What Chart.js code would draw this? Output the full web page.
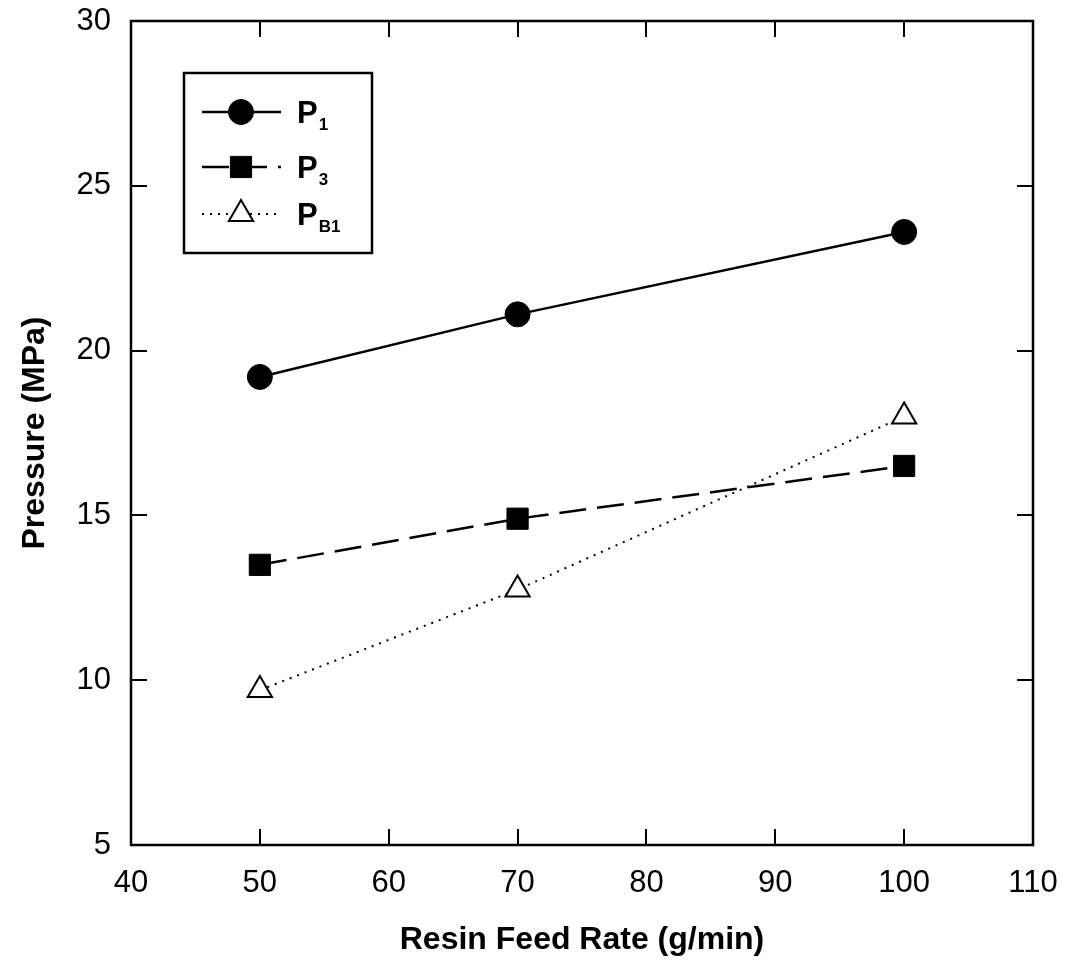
<!DOCTYPE html>
<html><head><meta charset="utf-8">
<script src="https://cdn.jsdelivr.net/npm/chart.js@4.4.1/dist/chart.umd.min.js"></script>
<style>html,body{margin:0;padding:0;background:#fff}#wrap{width:1068px;height:960px;position:relative}</style>
</head><body><div id="wrap"><canvas id="c" width="1068" height="960"></canvas></div>
<script>
const feedRates = [50, 70, 100];
const p1Values = [19.2, 21.1, 23.6];
const p3Values = [13.5, 14.9, 16.5];
const pb1Values = [9.7, 12.75, 18.0];
const xTicks = [40, 50, 60, 70, 80, 90, 100, 110];
const yTicks = [5, 10, 15, 20, 25, 30];
const seriesLabels = [
  { main: 'P', sub: '1' },
  { main: 'P', sub: '3' },
  { main: 'P', sub: 'B1' }
];
const xTitle = 'Resin Feed Rate (g/min)';
const yTitle = 'Pressure (MPa)';

const FONT = '"Liberation Sans", Arial, Helvetica, sans-serif';

function pts(vals) { return feedRates.map((x, i) => ({ x: x, y: vals[i] })); }

const datasets = [
  { label: 'P1', data: pts(p1Values), borderColor: '#000', backgroundColor: '#000', borderWidth: 2.5,
    pointStyle: 'circle', pointRadius: 12.5, pointBorderWidth: 1, pointBackgroundColor: '#000', pointBorderColor: '#000', borderDash: [] },
  { label: 'P3', data: pts(p3Values), borderColor: '#000', backgroundColor: '#000', borderWidth: 2.5,
    pointStyle: 'rect', pointRadius: 15, pointBorderWidth: 1, pointBackgroundColor: '#000', pointBorderColor: '#000', borderDash: [27, 11] },
  { label: 'PB1', data: pts(pb1Values), borderColor: '#000', backgroundColor: '#fff', borderWidth: 2,
    pointStyle: 'triangle', pointRadius: 14, pointBorderWidth: 2, pointBackgroundColor: '#fff', pointBorderColor: '#000', borderDash: [2, 6] }
];
datasets.forEach(d => { d.showLine = true; d.fill = false; d.tension = 0; });

const TICK_LEN = 16;

const framePlugin = {
  id: 'frame',
  beforeDatasetsDraw(chart) {
    const { ctx, chartArea: a, scales } = chart;
    ctx.save();
    ctx.strokeStyle = '#000';
    ctx.lineWidth = 2.5;
    ctx.strokeRect(a.left, a.top, a.right - a.left, a.bottom - a.top);
    ctx.lineWidth = 2;
    ctx.beginPath();
    xTicks.forEach(v => {
      const px = Math.round(scales.x.getPixelForValue(v));
      ctx.moveTo(px, a.bottom); ctx.lineTo(px, a.bottom - TICK_LEN);
      ctx.moveTo(px, a.top); ctx.lineTo(px, a.top + TICK_LEN);
    });
    yTicks.forEach(v => {
      const py = Math.round(scales.y.getPixelForValue(v));
      ctx.moveTo(a.left, py); ctx.lineTo(a.left + TICK_LEN, py);
      ctx.moveTo(a.right, py); ctx.lineTo(a.right - TICK_LEN, py);
    });
    ctx.stroke();
    ctx.restore();
  },
  afterDraw(chart) {
    const { ctx } = chart;
    const box = { x: 184, y: 73, w: 188, h: 180 };
    const rowsY = [112, 167, 214];
    ctx.save();
    ctx.fillStyle = '#fff';
    ctx.fillRect(box.x, box.y, box.w, box.h);
    ctx.strokeStyle = '#000';
    ctx.lineWidth = 2.5;
    ctx.strokeRect(box.x, box.y, box.w, box.h);
    chart.data.datasets.forEach((ds, i) => {
      const y = rowsY[i];
      const x0 = 202, x1 = 281, xm = 241;
      ctx.save();
      ctx.strokeStyle = ds.borderColor;
      ctx.lineWidth = ds.borderWidth;
      ctx.setLineDash(ds.borderDash || []);
      ctx.beginPath(); ctx.moveTo(x0, y); ctx.lineTo(x1, y); ctx.stroke();
      ctx.restore();
      ctx.save();
      ctx.fillStyle = ds.pointBackgroundColor;
      ctx.strokeStyle = ds.pointBorderColor;
      ctx.lineWidth = ds.pointBorderWidth;
      ctx.beginPath();
      const r = ds.pointRadius;
      if (ds.pointStyle === 'circle') {
        ctx.arc(xm, y, r, 0, Math.PI * 2);
      } else if (ds.pointStyle === 'rect') {
        const s = Math.SQRT1_2 * r;
        ctx.rect(xm - s, y - s, 2 * s, 2 * s);
      } else {
        let rad = 0;
        ctx.moveTo(xm + Math.sin(rad) * r, y - Math.cos(rad) * r);
        rad += 2 * Math.PI / 3;
        ctx.lineTo(xm + Math.sin(rad) * r, y - Math.cos(rad) * r);
        rad += 2 * Math.PI / 3;
        ctx.lineTo(xm + Math.sin(rad) * r, y - Math.cos(rad) * r);
        ctx.closePath();
      }
      ctx.fill(); ctx.stroke();
      ctx.restore();
      const lab = seriesLabels[i];
      ctx.fillStyle = '#000';
      ctx.textBaseline = 'alphabetic';
      ctx.textAlign = 'left';
      ctx.font = 'bold 31px ' + FONT;
      ctx.fillText(lab.main, 297, y + 11);
      const w = ctx.measureText(lab.main).width;
      ctx.font = 'bold 17px ' + FONT;
      ctx.fillText(lab.sub, 297 + w + 1, y + 18);
    });
    ctx.restore();
  }
};

new Chart(document.getElementById('c'), {
  type: 'scatter',
  data: { datasets: datasets },
  plugins: [framePlugin],
  options: {
    responsive: false,
    animation: false,
    devicePixelRatio: 1,
    layout: { padding: { top: 21, right: 35, left: 0, bottom: 0 } },
    plugins: { legend: { display: false }, tooltip: { enabled: false } },
    scales: {
      x: {
        type: 'linear', min: 40, max: 110,
        afterBuildTicks(scale) { scale.ticks = xTicks.map(v => ({ value: v })); },
        afterFit(scale) { scale.height = 115; scale.paddingLeft = 0; scale.paddingRight = 0; },
        grid: { display: false, drawTicks: false },
        border: { display: false },
        ticks: { color: '#000', font: { family: FONT, size: 31 }, padding: 20, maxRotation: 0, autoSkip: false },
        title: { display: true, text: xTitle, color: '#000', font: { family: FONT, size: 32, weight: 'bold' }, padding: { top: 0, bottom: 1 } }
      },
      y: {
        type: 'linear', min: 5, max: 30,
        afterBuildTicks(scale) { scale.ticks = yTicks.map(v => ({ value: v })); },
        afterFit(scale) { scale.width = 131; scale.paddingTop = 0; scale.paddingBottom = 0; },
        grid: { display: false, drawTicks: false },
        border: { display: false },
        ticks: { color: '#000', font: { family: FONT, size: 31 }, padding: 20, autoSkip: false },
        title: { display: true, text: yTitle, color: '#000', font: { family: FONT, size: 32, weight: 'bold' }, padding: { top: 16, bottom: 0 } }
      }
    }
  }
});
</script>
</body></html>
